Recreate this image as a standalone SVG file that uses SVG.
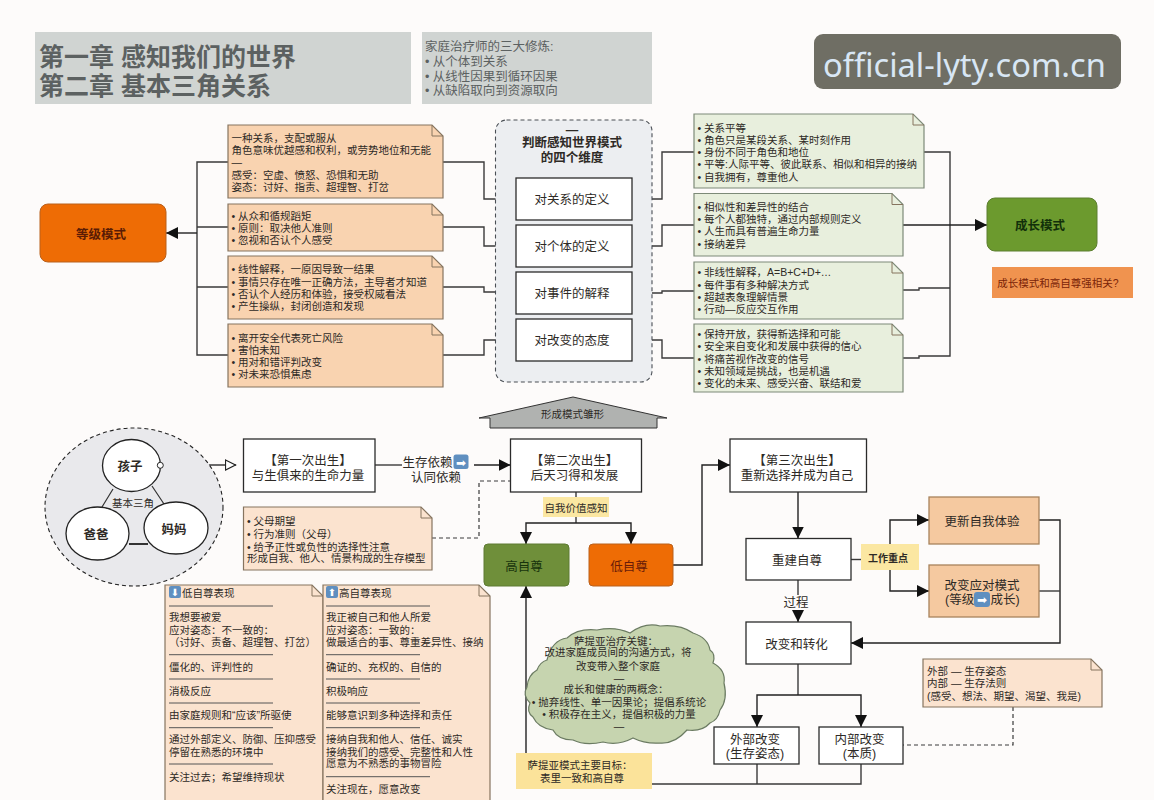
<svg xmlns="http://www.w3.org/2000/svg" width="1154" height="800" viewBox="0 0 1154 800">
<style>
text{font-family:"Liberation Sans","Noto Sans CJK SC",sans-serif;fill:#2e2a26;font-size:10.5px}
.c{text-anchor:middle}
.t12{font-size:12.5px}
.b{font-weight:bold}
.gt{fill:#5c6161}
.hd{fill:#d0d4d2}
.pn{fill:#f9d3b0;stroke:#86745f;stroke-width:1.2}
.pl{fill:#fbe3cf;stroke:#86745f;stroke-width:1.2}
.gn{fill:#e8efdd;stroke:#7d8a78;stroke-width:1.2}
.fold{fill:none;stroke:#86745f;stroke-width:1}
.box{fill:#fff;stroke:#2b2b2b;stroke-width:1.3}
.peach{fill:#f5c9a0;stroke:#a8835c;stroke-width:1.3}
.yl{fill:#fbe7a2}
.or{fill:#ee6c05;stroke:#b9601c;stroke-width:1}
.gr{fill:#6c9a2e;stroke:#5c7f30;stroke-width:1}
.ln{fill:none;stroke:#3a3a3a;stroke-width:1.4}
.ar{fill:none;stroke:#222;stroke-width:1.4;marker-end:url(#tri)}
.da{fill:none;stroke:#3a3a3a;stroke-width:1.2;stroke-dasharray:4 3}
.rule{stroke:#555;stroke-width:1}
.emo{fill:#5f8fc0}
.emt{font-family:"DejaVu Sans",sans-serif;fill:#fff}
</style>
<defs>
<marker id="tri" markerUnits="userSpaceOnUse" markerWidth="12" markerHeight="12" refX="12" refY="6" orient="auto"><path d="M0,0L12,6L0,12Z" fill="#111"/></marker>
<marker id="hol" markerUnits="userSpaceOnUse" markerWidth="12" markerHeight="12" refX="11.5" refY="6" orient="auto"><path d="M1,1L11,6L1,11Z" fill="#fff" stroke="#222" stroke-width="1.2"/></marker>
</defs>
<rect width="1154" height="800" fill="#fdfbfa"/>

<g id="title"><rect class="hd" x="35" y="32" width="376" height="72"/>
<text class="b gt" x="39" y="66" style="font-size:25px">第一章 感知我们的世界</text>
<text class="b gt" x="39" y="95" style="font-size:25px">第二章 基本三角关系</text></g>
<g id="disciplines"><rect class="hd" x="422" y="32" width="230" height="72"/>
<text class="gt t12" x="425" y="51">家庭治疗师的三大修炼:</text>
<text class="gt t12" x="425" y="66">• 从个体到关系</text>
<text class="gt t12" x="425" y="81">• 从线性因果到循环因果</text>
<text class="gt t12" x="425" y="95">• 从缺陷取向到资源取向</text></g>
<g id="watermark"><rect x="814" y="34" width="307" height="55" rx="9" fill="#6f6e64"/>
<text x="823" y="76.5" style="font-family:'Noto Sans',sans-serif;font-size:32.6px;fill:#d8e6f4">official-lyty.com.cn</text></g>

<g id="connectors">
<path class="ln" d="M228,162H197V355H228M197,227H228M197,287H228"/>
<path class="ar" d="M197,233H166"/>
<path class="ln" d="M443,162H484V199H516M443,227H484V246H516M443,287H484V292H516M443,355H484V340H516"/>
<path class="ln" d="M632,199H662V152H694M632,246H662V225H694M632,293H662V291H694M632,340H662V358H694"/>
<path class="ln" d="M924,152H950V356H919V358H903M903,290H919V288H950"/>
<path class="ar" d="M903,225H987"/>
<path class="ln" d="M160,465H236" marker-end="url(#hol)"/>
<path class="ln" d="M375,465H402"/>
<path class="ar" d="M474,465H510.500"/>
<path class="da" d="M432,538H479V481H510"/>
<path class="ln" d="M576,492V497M576,517V523"/>
<path class="ar" d="M576,523H526V544"/>
<path class="ar" d="M576,523H631V544"/>
<path class="ar" d="M673,565H702V465H730"/>
<path class="ar" d="M798,492V538.500"/>
<path class="ln" d="M798,580V595"/>
<path class="ar" d="M798,610V622"/>
<path class="ln" d="M798,664V695"/>
<path class="ar" d="M798,695H757V727"/>
<path class="ar" d="M798,695H861V727"/>
<path class="ln" d="M652,784H861V764M757,784V764"/>
<path class="ar" d="M526,753V586"/>
<path class="ln" d="M851,559.500H861"/>
<path class="ar" d="M890,544V520H929"/>
<path class="ar" d="M890,570V591H929"/>
<path class="ar" d="M1039,520H1060V643H851"/>
<path class="ln" d="M1039,591H1060"/>
<path class="da" d="M1013,707V745H903"/>
</g>

<g id="hierarchy"><rect class="or" x="40" y="204" width="126" height="58" rx="8"/>
<text class="c b t12" x="101" y="238.500" style="fill:#5a1c05">等级模式</text></g>

<g id="n-p1"><path class="pn" d="M228,125H432L443,136V198H228Z"/><path class="fold" d="M432,125V136H443"/>
<text x="231.500" y="142">一种关系，支配或服从</text>
<text x="231.500" y="154">角色意味优越感和权利，或劳势地位和无能</text>
<text x="231.500" y="166">—</text>
<text x="231.500" y="179">感受：空虚、愤怒、恐惧和无助</text>
<text x="231.500" y="191">姿态：讨好、指责、超理智、打岔</text></g>
<g id="n-p2"><path class="pn" d="M228,204H432L443,215V251H228Z"/><path class="fold" d="M432,204V215H443"/>
<text x="231.500" y="220">• 从众和循规蹈矩</text>
<text x="231.500" y="232">• 原则：取决他人准则</text>
<text x="231.500" y="244">• 忽视和否认个人感受</text></g>
<g id="n-p3"><path class="pn" d="M228,256H432L443,267V319H228Z"/><path class="fold" d="M432,256V267H443"/>
<text x="231.500" y="273">• 线性解释，一原因导致一结果</text>
<text x="231.500" y="286">• 事情只存在唯一正确方法，主导者才知道</text>
<text x="231.500" y="298">• 否认个人经历和体验，接受权威看法</text>
<text x="231.500" y="310">• 产生操纵，封闭创造和发现</text></g>
<g id="n-p4"><path class="pn" d="M228,324H432L443,335V387H228Z"/><path class="fold" d="M432,324V335H443"/>
<text x="231.500" y="342">• 离开安全代表死亡风险</text>
<text x="231.500" y="354">• 害怕未知</text>
<text x="231.500" y="366">• 用对和错评判改变</text>
<text x="231.500" y="378">• 对未来恐惧焦虑</text></g>

<g id="dimensions"><rect x="495.500" y="120" width="156.500" height="262" rx="11" fill="#eceef1" stroke="#4a4f55" stroke-width="1.1" stroke-dasharray="4 3"/>
<text class="c b t12" x="572" y="134">—</text>
<text class="c b t12" x="572" y="147">判断感知世界模式</text>
<text class="c b t12" x="572" y="162">的四个维度</text></g>
<g id="d1"><rect class="box" x="516" y="178" width="116" height="42"/><text class="c t12" x="572" y="204">对关系的定义</text></g>
<g id="d2"><rect class="box" x="516" y="225" width="116" height="42"/><text class="c t12" x="572" y="251">对个体的定义</text></g>
<g id="d3"><rect class="box" x="516" y="272" width="116" height="42"/><text class="c t12" x="572" y="298">对事件的解释</text></g>
<g id="d4"><rect class="box" x="516" y="319" width="116" height="42"/><text class="c t12" x="572" y="345">对改变的态度</text></g>

<g id="n-g1"><path class="gn" d="M694,114H913L924,125V188H694Z"/><path class="fold" d="M913,114V125H924"/>
<text x="697.500" y="132">• 关系平等</text>
<text x="697.500" y="144">• 角色只是某段关系、某时刻作用</text>
<text x="697.500" y="156">• 身份不同于角色和地位</text>
<text x="697.500" y="168">• 平等:人际平等、彼此联系、相似和相异的接纳</text>
<text x="697.500" y="181">• 自我拥有，尊重他人</text></g>
<g id="n-g2"><path class="gn" d="M694,193.500H892L903,204.500V256H694Z"/><path class="fold" d="M892,193.500V204.500H903"/>
<text x="697.500" y="211">• 相似性和差异性的结合</text>
<text x="697.500" y="223">• 每个人都独特，通过内部规则定义</text>
<text x="697.500" y="235">• 人生而具有普遍生命力量</text>
<text x="697.500" y="248">• 接纳差异</text></g>
<g id="n-g3"><path class="gn" d="M694,262H892L903,273V319H694Z"/><path class="fold" d="M892,262V273H903"/>
<text x="697.500" y="276">• 非线性解释，A=B+C+D+…</text>
<text x="697.500" y="289">• 每件事有多种解决方式</text>
<text x="697.500" y="301">• 超越表象理解情景</text>
<text x="697.500" y="313">• 行动—反应交互作用</text></g>
<g id="n-g4"><path class="gn" d="M694,324H892L903,335V392H694Z"/><path class="fold" d="M892,324V335H903"/>
<text x="697.500" y="338">• 保持开放，获得新选择和可能</text>
<text x="697.500" y="350">• 安全来自变化和发展中获得的信心</text>
<text x="697.500" y="363">• 将痛苦视作改变的信号</text>
<text x="697.500" y="375">• 未知领域是挑战，也是机遇</text>
<text x="697.500" y="387">• 变化的未来、感受兴奋、联结和爱</text></g>

<g id="growth"><rect class="gr" x="987" y="198" width="110" height="53" rx="8"/>
<text class="c b t12" x="1040" y="230" style="fill:#12300a">成长模式</text></g>
<g id="growth-note"><rect x="992" y="267" width="141" height="31" fill="#f0934f"/>
<text class="c" x="1058" y="287" style="fill:#7a2408">成长模式和高自尊强相关?</text></g>

<g id="roof"><path d="M479,418L573,397L667,418H657V428H490V418Z" fill="#b0b2b0" stroke="#333" stroke-width="1"/>
<text class="c" x="572.500" y="418">形成模式雏形</text></g>

<g id="triangle"><ellipse cx="134" cy="507" rx="89" ry="79" fill="#e9e9ec" stroke="#222" stroke-width="1.1" stroke-dasharray="4 3"/>
<path d="M113,489L102,507M152,486L164,504" stroke="#333" stroke-width="1.2" fill="none"/>
<path d="M129,544H148" stroke="#333" stroke-width="2"/>
<text class="c" x="133" y="507">基本三角</text></g>
<g id="child"><ellipse cx="131.500" cy="465.500" rx="29" ry="26" fill="#fff" stroke="#222" stroke-width="1.3"/>
<text class="c b t12" x="130" y="471">孩子</text><circle cx="160.300" cy="465.300" r="3" fill="#fff" stroke="#222"/></g>
<g id="dad"><ellipse cx="97.500" cy="533.500" rx="31.500" ry="26.500" fill="#fff" stroke="#222" stroke-width="1.3"/>
<text class="c b t12" x="96" y="539">爸爸</text></g>
<g id="mom"><ellipse cx="176" cy="528" rx="32" ry="26" fill="#fff" stroke="#222" stroke-width="1.3"/>
<text class="c b t12" x="174" y="534">妈妈</text></g>

<g id="birth1"><rect class="box" x="243.500" y="439" width="131.500" height="53"/>
<text class="c t12" x="308" y="464.500">【第一次出生】</text>
<text class="c t12" x="308" y="479.500">与生俱来的生命力量</text></g>
<g id="birth1-label"><text class="t12" x="402.500" y="466.500">生存依赖</text><rect class="emo" x="453.500" y="454.500" width="15" height="14.500" rx="2.500"/><text class="emt c" x="461" y="466.500" style="font-size:12px;fill:#fff">➡</text>
<text class="c t12" x="436" y="481.500">认同依赖</text></g>
<g id="birth2"><rect class="box" x="510.500" y="439" width="131" height="53"/>
<text class="c t12" x="574.500" y="464.500">【第二次出生】</text>
<text class="c t12" x="574.500" y="479.500">后天习得和发展</text></g>
<g id="birth3"><rect class="box" x="730" y="439" width="136.500" height="53"/>
<text class="c t12" x="797" y="464.500">【第三次出生】</text>
<text class="c t12" x="797" y="479.500">重新选择并成为自己</text></g>

<g id="parents-note"><path class="pl" d="M243.500,507H421L432,518V570H243.500Z"/><path class="fold" d="M421,507V518H432"/>
<text x="247" y="524.500">• 父母期望</text>
<text x="247" y="537.500">• 行为准则（父母）</text>
<text x="247" y="550.500">• 给予正性或负性的选择性注意</text>
<text x="247" y="562">形成自我、他人、情景构成的生存模型</text></g>

<g id="self-worth"><rect class="yl" x="543" y="497" width="66" height="20"/><text class="c" x="576" y="512">自我价值感知</text></g>
<g id="high"><rect x="484" y="544" width="85" height="42" rx="4" fill="#6f8f3a" stroke="#5e7a32"/><text class="c t12" x="524" y="571" style="fill:#17330c">高自尊</text></g>
<g id="low"><rect class="or" x="589" y="544" width="84" height="42" rx="4"/><text class="c t12" x="629" y="571" style="fill:#6a1c08">低自尊</text></g>

<g id="low-note"><path class="pl" d="M165,585H312L323,596V812H165Z"/><path class="fold" d="M312,585V596H323"/>
<rect class="emo" x="169" y="586" width="12" height="12" rx="2"/><text class="emt c" x="175" y="596" style="font-size:10px;fill:#fff">⬇</text>
<text x="182" y="596.500" style="font-size:10.5px">低自尊表现</text>
<path class="rule" d="M169,606H273M169,654.700H273M169,679H273M169,703H273M169,727.700H273M169,764H273"/>
<text x="169" y="620.500">我想要被爱</text>
<text x="169" y="633.500">应对姿态：不一致的：</text>
<text x="169" y="646">（讨好、责备、超理智、打岔）</text>
<text x="169" y="670.500">僵化的、评判性的</text>
<text x="169" y="694.500">消极反应</text>
<text x="169" y="719">由家庭规则和“应该”所驱使</text>
<text x="169" y="743">通过外部定义、防御、压抑感受</text>
<text x="169" y="755.500">停留在熟悉的环境中</text>
<text x="169" y="780.500">关注过去；希望维持现状</text></g>
<g id="high-note"><path class="pl" d="M323,585H479L490,596V812H323Z"/><path class="fold" d="M479,585V596H490"/>
<rect class="emo" x="326" y="586" width="12" height="12" rx="2"/><text class="emt c" x="332" y="596" style="font-size:10px;fill:#fff">⬆</text>
<text x="339" y="596.500">高自尊表现</text>
<path class="rule" d="M326,606H430M326,654.700H420M326,679H420M326,703H420M326,727.700H420M326,776.700H430"/>
<text x="326" y="620.500">我正被自己和他人所爱</text>
<text x="326" y="633.500">应对姿态：一致的：</text>
<text x="326" y="646">做最适合的事、尊重差异性、接纳</text>
<text x="326" y="670.500">确证的、充权的、自信的</text>
<text x="326" y="694.500">积极响应</text>
<text x="326" y="719">能够意识到多种选择和责任</text>
<text x="326" y="743">接纳自我和他人、信任、诚实</text>
<text x="326" y="755.500">接纳我们的感受、完整性和人性</text>
<text x="326" y="767">愿意为不熟悉的事物冒险</text>
<text x="326" y="793">关注现在，愿意改变</text></g>

<g id="cloud"><path d="M547,660Q552,640 567,638Q578,628 597,630Q615,626 630,633Q645,622 660,626Q680,624 693,633Q708,638 710,650Q716,654 713,663Q726,670 724,683Q728,700 720,710Q718,720 710,723Q702,732 687,730Q675,744 660,743Q645,744 633,738Q618,746 603,742Q585,746 573,740Q558,740 553,730Q538,728 533,717Q526,712 530,703Q522,695 527,687Q528,675 537,670Q540,662 547,660Z" fill="#c6d4af" stroke="#6b7b62" stroke-width="1.2"/>
<text class="c" x="616" y="644.500">萨提亚治疗关键：</text>
<text class="c" x="618" y="656">改进家庭成员间的沟通方式，将</text>
<text class="c" x="618" y="669.500">改变带入整个家庭</text>
<text class="c" x="619" y="681.500">—</text>
<text class="c" x="616" y="693">成长和健康的两概念：</text>
<text class="c" x="619" y="705.500">• 抛弃线性、单一因果论；提倡系统论</text>
<text class="c" x="619" y="718">• 积极存在主义，提倡积极的力量</text>
<text class="c" x="619" y="730">—</text></g>

<g id="goal"><rect x="516" y="753" width="136" height="36" fill="#fbe39a"/>
<text class="c" x="580" y="769">萨提亚模式主要目标：</text>
<text class="c" x="582" y="782">表里一致和高自尊</text></g>

<g id="rebuild"><rect class="box" x="746" y="538.500" width="105" height="41.500"/><text class="c t12" x="797" y="564.500">重建自尊</text></g>
<g id="process-label"><text class="c t12" x="796" y="607">过程</text></g>
<g id="change"><rect class="box" x="746" y="622" width="105" height="42"/><text class="c t12" x="796.500" y="648.500">改变和转化</text></g>
<g id="outer"><rect class="box" x="714" y="727" width="85" height="37"/><text class="c t12" x="755" y="743.500">外部改变</text><text class="c t12" x="755" y="757.500">(生存姿态)</text></g>
<g id="inner"><rect class="box" x="819" y="727" width="84" height="37"/><text class="c t12" x="859.500" y="743.500">内部改变</text><text class="c t12" x="859.500" y="757.500">(本质)</text></g>
<g id="focus"><rect class="yl" x="861" y="544" width="58" height="26"/><text class="c b" x="888" y="562" style="font-size:10px">工作重点</text></g>
<g id="renew"><rect class="peach" x="929" y="497" width="110" height="47"/><text class="c t12" x="982" y="526">更新自我体验</text></g>
<g id="coping"><rect class="peach" x="929" y="565" width="110" height="52"/>
<text class="c t12" x="982" y="589.500">改变应对模式</text>
<text class="t12" x="945" y="603.500">(等级</text><rect class="emo" x="974" y="592" width="16" height="15" rx="3"/><text class="emt c" x="982" y="604" style="font-size:12px;fill:#fff">➡</text><text class="t12" x="990.500" y="603.500">成长)</text></g>
<g id="inner-note"><path class="pl" d="M923,659H1091L1102,670V707H923Z"/><path class="fold" d="M1091,659V670H1102"/>
<text x="927" y="674.500">外部 — 生存姿态</text>
<text x="927" y="687">内部 — 生存法则</text>
<text x="927" y="700">(感受、想法、期望、渴望、我是)</text></g>
</svg>
